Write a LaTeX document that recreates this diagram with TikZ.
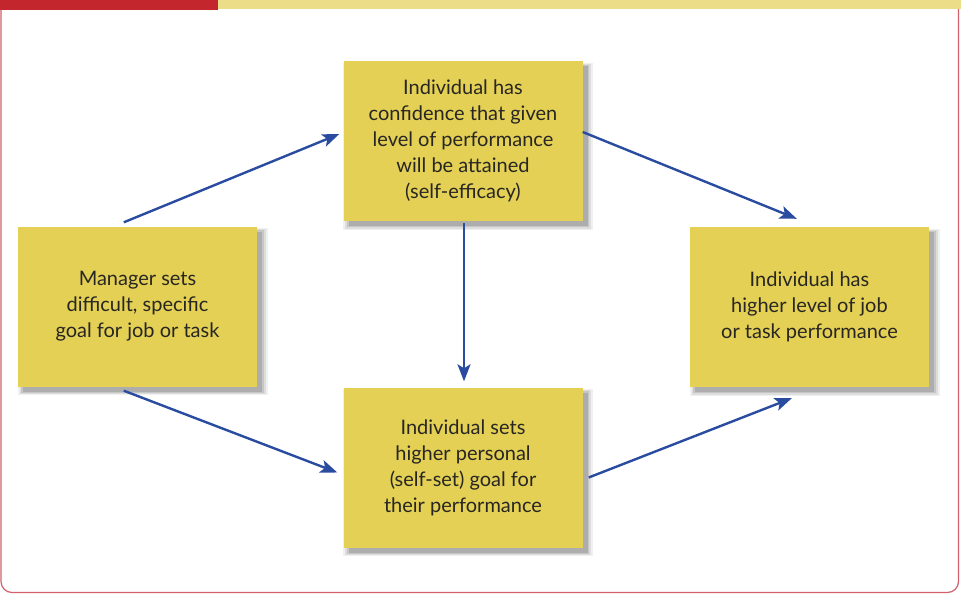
\documentclass[tikz,border=0pt]{standalone}
\usepackage{fontspec}
\setmainfont{Lato}
\usetikzlibrary{arrows.meta,calc,shadows}
\definecolor{boxfill}{RGB}{227,208,84}
\definecolor{arrowblue}{RGB}{42,76,160}
\definecolor{barred}{RGB}{196,38,46}
\definecolor{baryellow}{RGB}{236,222,136}
\definecolor{framered}{RGB}{210,96,106}
\definecolor{textdark}{RGB}{40,38,35}
\tikzset{
  softshadow/.style={
    general shadow={shadow xshift=5pt, shadow yshift=-5pt, shadow scale=1.045, fill=black, fill opacity=0.06},
    general shadow={shadow xshift=5pt, shadow yshift=-5pt, shadow scale=1.03, fill=black, fill opacity=0.08},
    general shadow={shadow xshift=5pt, shadow yshift=-5pt, shadow scale=1.015, fill=black, fill opacity=0.10},
    general shadow={shadow xshift=5pt, shadow yshift=-5pt, shadow scale=1.0, fill=black, fill opacity=0.12}},
  stepbox/.style={draw=none, fill=boxfill, minimum width=239pt, minimum height=160pt,
    align=center, text=textdark, inner sep=0pt,
    font=\fontsize{20pt}{26pt}\selectfont, softshadow},
  flow/.style={draw=arrowblue, line width=2.4pt, -{Stealth[length=17pt,width=13pt,inset=4pt]}}
}
\begin{document}
\begin{tikzpicture}[x=1pt,y=-1pt]
\useasboundingbox (0,0) rectangle (961,594);
\fill[white] (0,0) rectangle (961,594);
% frame
\draw[framered, line width=1.2pt, rounded corners=11pt] (1,8) -- (1,592.5) -- (958.5,592.5) -- (958.5,8);
% top bars
\fill[baryellow] (218,0) rectangle (961,9.5);
\fill[barred] (0,0) rectangle (218,10);
% boxes
\node[stepbox] (A) at (137.5,306.5) {Manager sets\\difficult, specific\\goal for job or task};
\node[stepbox] (B) at (463,141) {Individual has\\confidence that given\\level of performance\\will be attained\\(self-efficacy)};
\node[stepbox] (C) at (809.5,307) {Individual has\\higher level of job\\or task performance};
\node[stepbox] (D) at (463,467.5) {Individual sets\\higher personal\\(self-set) goal for\\their performance};
% connectors
\draw[flow] ($(A.north west)+(106,-4)$) -- ($(B.west)+(-4,-7)$);
\draw[flow] ($(B.east)+(0,-9)$) -- ($(C.north west)+(107,-8)$);
\draw[flow] ($(B.south)+(1,2)$) -- ($(D.north)+(1,-6)$);
\draw[flow] ($(A.south west)+(106,4)$) -- ($(D.west)+(-6,5)$);
\draw[flow] ($(D.east)+(6,10)$) -- ($(C.south west)+(102,11)$);
\end{tikzpicture}
\end{document}
